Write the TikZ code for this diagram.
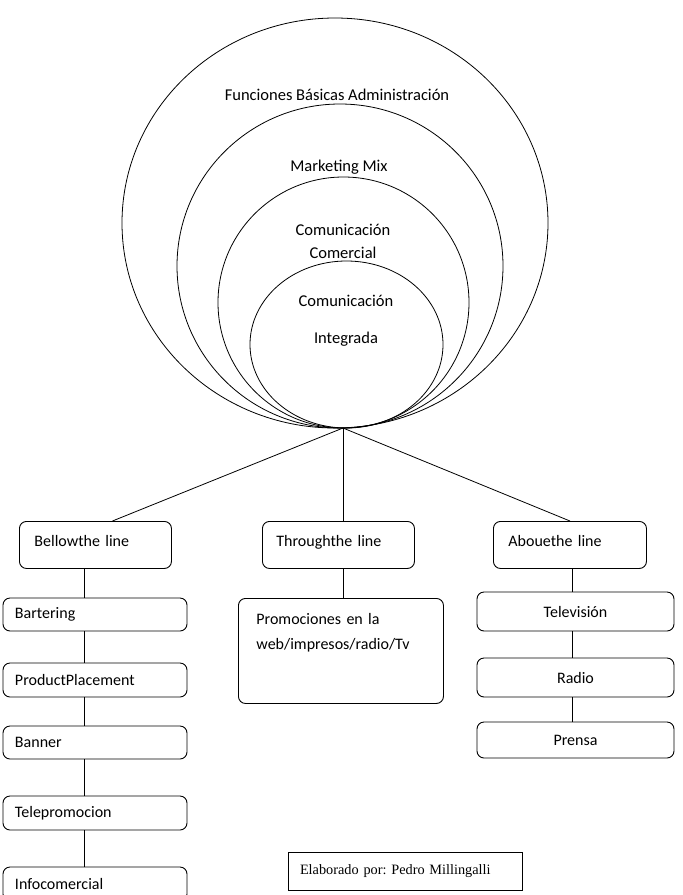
\documentclass[tikz,border=0pt]{standalone}
\usepackage{fontspec}
\setmainfont{Carlito}
\newfontfamily\serifface{Liberation Serif}
\frenchspacing
\begin{document}
\begin{tikzpicture}[x=1pt,y=-1pt,
  lbl/.style={font=\fontsize{16.5}{19}\selectfont, inner sep=0pt},
  box/.style={draw, line width=0.9pt, rounded corners=7pt, font=\fontsize{16}{19}\selectfont, inner ysep=0pt, align=left},
  headbox/.style={box, anchor=north west, inner xsep=15pt, text width=122pt, text height=25pt, text depth=22pt},
  cbox/.style={draw, line width=0.9pt, rounded corners=7pt, font=\fontsize{16}{19}\selectfont, inner sep=0pt, align=center},
  ring/.style={draw, line width=0.8pt},
  conn/.style={draw, line width=0.8pt}]
\useasboundingbox (0,0) rectangle (683,895);
\begin{scope}
\clip (0,0) rectangle (683,895);
% concentric circles tangent at bottom
\draw[ring] (335,223) ellipse [x radius=213pt, y radius=205pt];
\draw[ring] (340,266) ellipse [x radius=163pt, y radius=162pt];
\draw[ring] (343.5,302.5) ellipse [x radius=125.5pt, y radius=125.5pt];
\draw[ring] (346.5,344.5) ellipse [x radius=96.5pt, y radius=83.5pt];
\coordinate (t) at (343,428);
\coordinate (lx) at (84,0);
\coordinate (rx) at (572,0);

\node[lbl] (fba) at (337,95) {Funciones Básicas Administración};
\node[lbl] (mm) at (339,167) {Marketing Mix};
\node[lbl] (cc1) at (343,230) {Comunicación};
\node[lbl] (cc2) at (343,253) {Comercial};
\node[lbl] (ci1) at (346,301) {Comunicación};
\node[lbl] (ci2) at (346,339) {Integrada};

% left column
\node[headbox] (bel) at (19,521) {Bellowthe line};
\node[box, inner xsep=12pt, text width=160pt, minimum height=33pt] (bart) at (95,614.5) {Bartering};
\node[box, inner xsep=12pt, text width=160pt, minimum height=34pt] (pp) at (95,680) {ProductPlacement};
\node[box, inner xsep=12pt, text width=160pt, minimum height=33pt] (ban) at (95,742.5) {Banner};
\node[box, inner xsep=12pt, text width=160pt, minimum height=34pt] (tel) at (95,813) {Telepromocion};
\node[box, inner xsep=12pt, text width=160pt, minimum height=34pt] (inf) at (95,884) {Infocomercial};

% middle column
\node[headbox, inner xsep=14pt, text width=124pt] (thr) at (262,521) {Throughthe line};
\node[box, anchor=north west, inner xsep=18pt, text width=169pt, font=\fontsize{16}{25}\selectfont, text height=26pt, text depth=79pt] (prom) at (238,598) {Promociones en la\\web/impresos/radio/Tv};

% right column
\node[headbox, text width=123pt] (abo) at (493,521) {Abouethe line};
\node[cbox, minimum width=197pt, minimum height=39pt] (tv) at (575.5,611.5) {Televisión};
\node[cbox, minimum width=197pt, minimum height=39pt] (rad) at (575.5,677.5) {Radio};
\node[cbox, minimum width=197pt, minimum height=36pt] (pre) at (575.5,740) {Prensa};

% connectors
\draw[conn] (t) -- ([xshift=17pt]bel.north);
\draw[conn] (t) -- (t |- thr.north);
\draw[conn] (t) -- (abo.north);
\draw[conn] (bel.south -| lx) -- (bart.north -| lx);
\draw[conn] (bart.south -| lx) -- (pp.north -| lx);
\draw[conn] (pp.south -| lx) -- (ban.north -| lx);
\draw[conn] (ban.south -| lx) -- (tel.north -| lx);
\draw[conn] (tel.south -| lx) -- (inf.north -| lx);
\draw[conn] (t |- thr.south) -- (t |- prom.north);
\draw[conn] (abo.south -| rx) -- (tv.north -| rx);
\draw[conn] (tv.south -| rx) -- (rad.north -| rx);
\draw[conn] (rad.south -| rx) -- (pre.north -| rx);

% credit
\node[draw, line width=0.8pt, inner xsep=12pt, inner ysep=0pt, minimum height=38pt, text width=210pt, align=left, font=\serifface\fontsize{14.3}{17}\selectfont] (cred) at (405,871) {Elaborado por: Pedro Millingalli};
\end{scope}
\end{tikzpicture}
\end{document}
